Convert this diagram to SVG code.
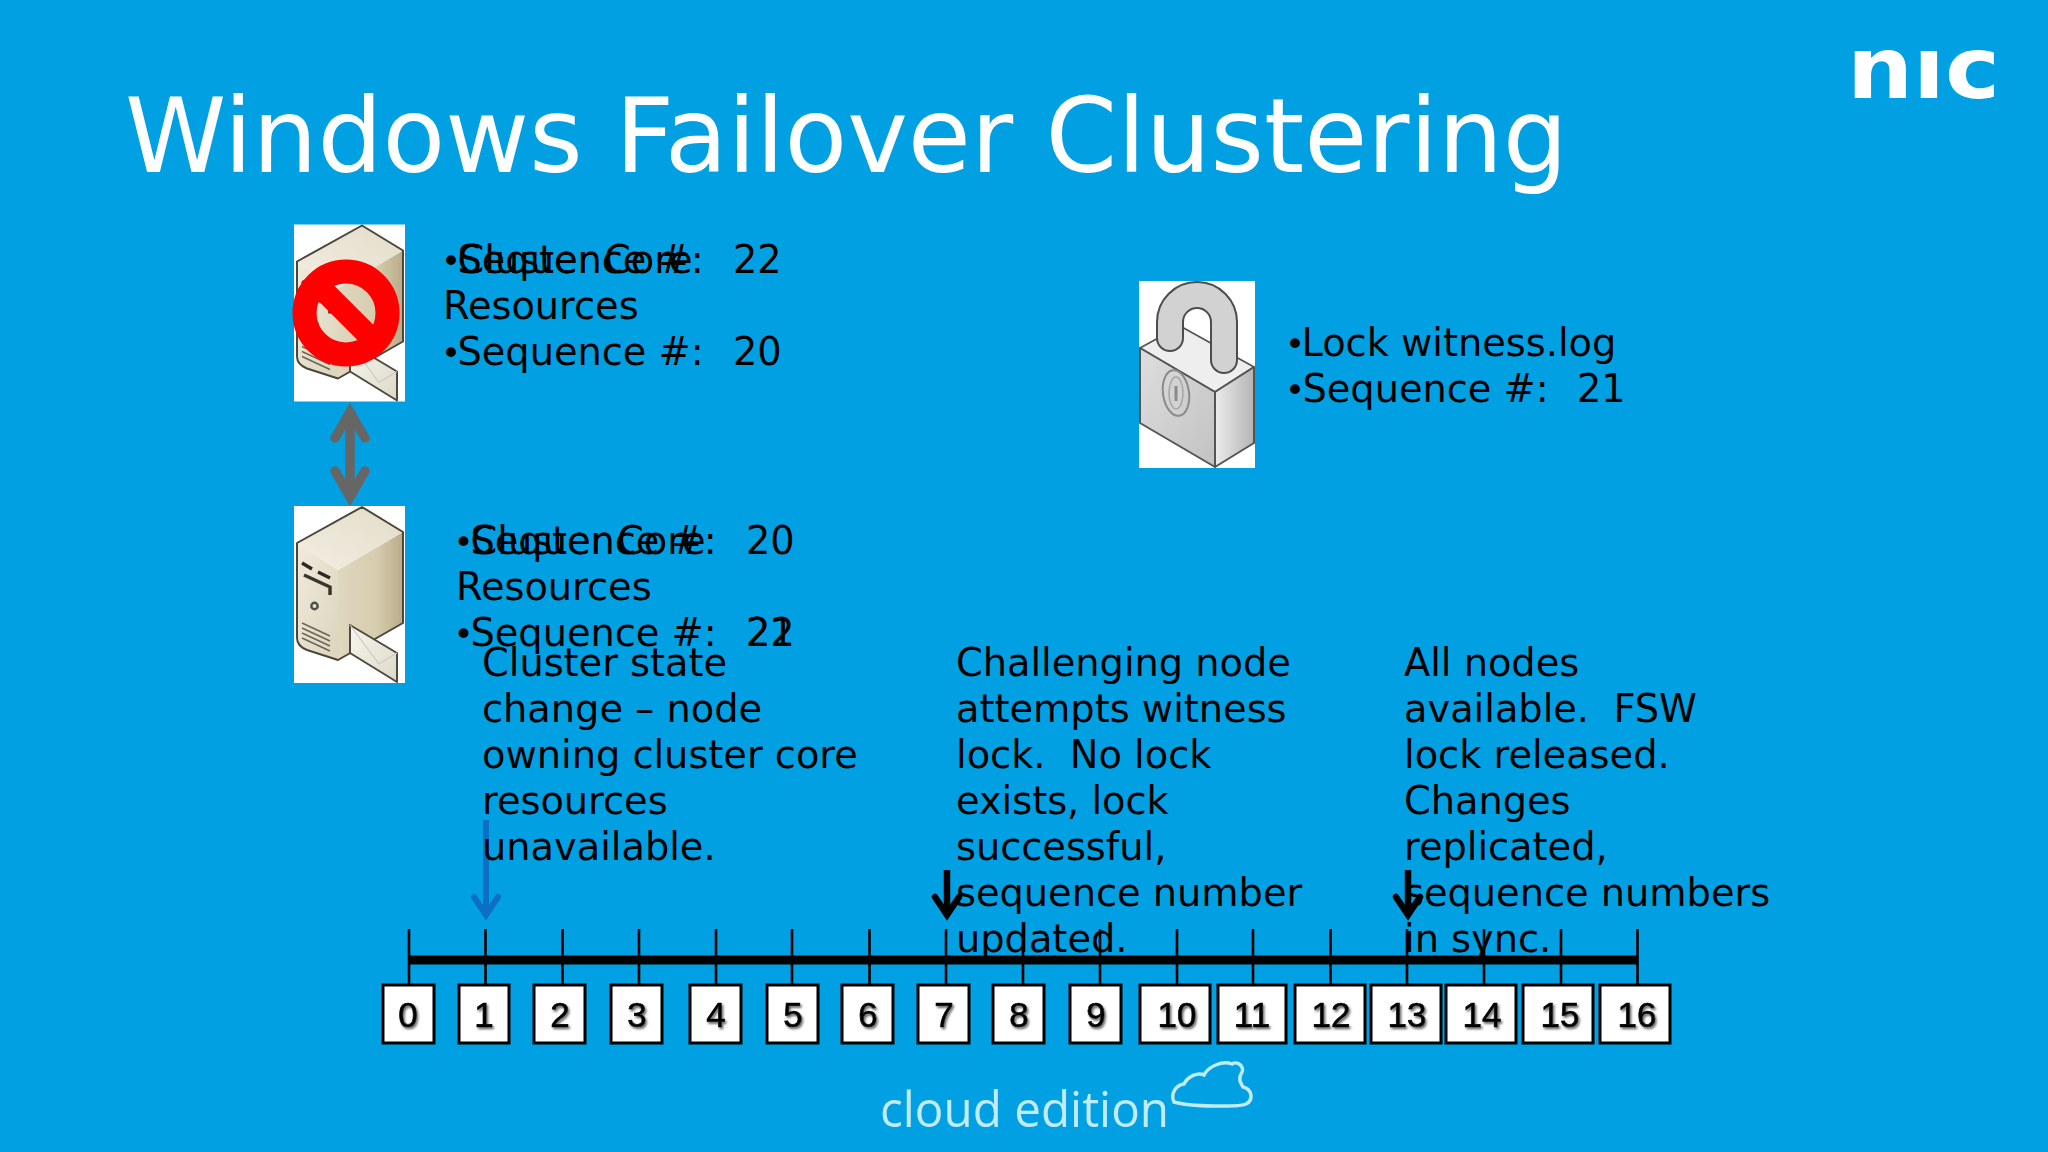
<svg xmlns="http://www.w3.org/2000/svg" width="2048" height="1152" viewBox="0 0 2048 1152">
<style>
.t{font-family:"DejaVu Sans",Verdana,sans-serif;font-size:38.300px;fill:#000}
.b{font-size:34px}
.title{font-family:"DejaVu Sans",Verdana,sans-serif;font-size:102.500px;fill:#fff}
.box{fill:#fff;stroke:#000;stroke-width:3}
.num{font-family:"Liberation Sans",Arial,sans-serif;font-size:35px;fill:#000;stroke:#000;stroke-width:.7px;text-anchor:middle;filter:url(#sh)}
.tick{stroke:#000;stroke-width:2.6;fill:none}
</style>
<defs>
<filter id="sh" x="-30%" y="-30%" width="170%" height="170%"><feDropShadow dx="1.500" dy="2" stdDeviation="1" flood-color="#666"/></filter>
<linearGradient id="sf" x1="0" y1="0" x2="1" y2="1"><stop offset="0" stop-color="#f0ebdd"/><stop offset="1" stop-color="#dcd4bc"/></linearGradient>
<linearGradient id="ss" x1="0" y1="0" x2="1" y2="0"><stop offset="0" stop-color="#dfd7bf"/><stop offset=".6" stop-color="#d6cdaf"/><stop offset="1" stop-color="#b8ab87"/></linearGradient>
<linearGradient id="st" x1="0" y1="1" x2="1" y2="0"><stop offset="0" stop-color="#f2eee2"/><stop offset="1" stop-color="#e3dcc8"/></linearGradient>
<linearGradient id="env" x1="0" y1="0" x2="1" y2="1"><stop offset="0" stop-color="#f7f6f0"/><stop offset="1" stop-color="#dcd9c8"/></linearGradient>
<linearGradient id="lk" x1="0" y1="0" x2="1" y2="1"><stop offset="0" stop-color="#dedede"/><stop offset="1" stop-color="#c2c2c2"/></linearGradient>
<linearGradient id="lk2" x1="0" y1="0" x2="1" y2="0"><stop offset="0" stop-color="#ececec"/><stop offset="1" stop-color="#b4b4b4"/></linearGradient>
<clipPath id="nicclip"><rect x="1845" y="49" width="160" height="50"/></clipPath>
<g id="server">
<rect x="294" y="506" width="111" height="177" fill="#fff"/>
<path d="M338 570L403 532V623L338 660Z" fill="url(#ss)"/>
<path d="M297 543L338 570V660L307 650Q297 646 297 638Z" fill="url(#sf)"/>
<path d="M362 507L403 532L338 570L297 543Z" fill="url(#st)"/>
<path d="M297 543L362 507L403 532V623L338 660L307 650Q297 646 297 638Z" fill="none" stroke="#4a463c" stroke-width="2" stroke-linejoin="round"/>
<path d="M302 563L312 569M318 572L330 578" fill="none" stroke="#2d2a24" stroke-width="3.500"/>
<path d="M304 575L330 587V595" fill="none" stroke="#3a362c" stroke-width="3.500"/>
<circle cx="314.500" cy="606" r="3.200" fill="none" stroke="#4b5245" stroke-width="2.400"/>
<path d="M302 623l28 13M302 628l28 13M302 633l28 13M302 638l28 13" fill="none" stroke="#6c6656" stroke-width="1.500"/>
<polygon points="350,625 397,653 397,682 350,653" fill="url(#env)" stroke="#4e4a3e" stroke-width="2" stroke-linejoin="round"/>
<path d="M350 625L379 664L397 653" fill="none" stroke="#cfcbbd" stroke-width="1.200"/>
</g>
</defs>
<rect width="2048" height="1152" fill="#00a0e3"/>
<g id="title"><text class="title" x="125" y="172">Windows Failover Clustering</text></g>
<g id="nic-logo"><text clip-path="url(#nicclip)" x="1847" y="98" font-family="DejaVu Sans" font-weight="bold" font-size="86" fill="#fff" textLength="153" lengthAdjust="spacingAndGlyphs">nic</text></g>
<g id="node-server-1">
<use href="#server" transform="translate(0,-281.500)"/>
<circle cx="346" cy="313" r="41.500" fill="none" stroke="#fe0000" stroke-width="24"/>
<line x1="318" y1="285" x2="374" y2="341" stroke="#fe0000" stroke-width="22"/>
</g>
<g id="node-server-2"><use href="#server"/></g>
<g id="node-lock">
<rect x="1139" y="281" width="116" height="187" fill="#fff"/>
<path d="M1140 348L1180 326L1254 367L1215 392Z" fill="#eeeeee" stroke="#555" stroke-width="1.800" stroke-linejoin="round"/>
<path d="M1170 338V322A27 27 0 0 1 1224 322V360" fill="none" stroke="#4d4d4d" stroke-width="28" stroke-linecap="round"/>
<path d="M1170 338V322A27 27 0 0 1 1224 322V360" fill="none" stroke="#d2d2d2" stroke-width="24" stroke-linecap="round"/>
<polygon points="1140,348 1215,392 1215,467 1140,423" fill="url(#lk)" stroke="#555" stroke-width="2" stroke-linejoin="round"/>
<polygon points="1215,392 1254,367 1254,443 1215,467" fill="url(#lk2)" stroke="#555" stroke-width="2" stroke-linejoin="round"/>
<ellipse cx="1176" cy="393" rx="13" ry="23" fill="none" stroke="#8a8a8a" stroke-width="2" transform="rotate(-8 1176 393)"/>
<ellipse cx="1176" cy="393" rx="7" ry="16" fill="#d2d2d2" stroke="#a5a5a5" stroke-width="1.500"/>
<rect x="1174.500" y="386" width="3" height="15" fill="#8a8a8a"/>
</g>
<g id="connectors">
<g id="link-servers" fill="none" stroke="#666" stroke-width="9.500" stroke-linejoin="miter">
<path d="M350 413V497"/>
<path d="M335 438L350 412L365 438" stroke-linecap="round"/>
<path d="M335 471L350 497L365 471" stroke-linecap="round"/>
</g>
<g id="timeline">
<line x1="409" y1="960" x2="1637.500" y2="960" stroke="#000" stroke-width="9"/>
<path class="tick" d="M409 929V985M485.500 929V985M562.500 929V985M639 929V985M716 929V985M792 929V985M869.500 929V985M946 929V985M1023 929V985M1100 929V985M1177 929V985M1253 929V985M1330.500 929V985M1407 929V985M1484 929V985M1561 929V985M1637.500 929V985"/>
</g>
<g id="arrow-1" fill="none" stroke="#0b6fc6" stroke-width="6">
<path d="M486 820V915"/><path d="M474 897L486 915L498 897" stroke-linecap="round"/>
</g>
<g id="arrow-7" fill="none" stroke="#000" stroke-width="6.500">
<path d="M947 870V915"/><path d="M935 897L947 915L959 897" stroke-linecap="round"/>
</g>
<g id="arrow-13" fill="none" stroke="#000" stroke-width="6.500">
<path d="M1408 870V915"/><path d="M1396 897L1408 915L1420 897" stroke-linecap="round"/>
</g>
</g>
<g id="server-1-text">
<text class="t" y="273"><tspan class="b" x="441">•</tspan><tspan x="457.500">Cluster</tspan><tspan x="604">Core</tspan></text>
<text class="t" x="443" y="319">Resources</text>
<text class="t" y="365"><tspan class="b" x="441">•</tspan><tspan x="457.500">Sequence #:</tspan><tspan x="733">20</tspan></text>
<text class="t" y="273"><tspan x="457.500">Sequence #:</tspan><tspan x="733">22</tspan></text>
</g>
<g id="server-2-text">
<text class="t" y="554"><tspan class="b" x="453.500">•</tspan><tspan x="470.500">Cluster</tspan><tspan x="617">Core</tspan></text>
<text class="t" x="456" y="600">Resources</text>
<text class="t" y="646"><tspan class="b" x="453.500">•</tspan><tspan x="470.500">Sequence #:</tspan><tspan x="746">21</tspan></text>
<text class="t" y="554"><tspan x="470.500">Sequence #:</tspan><tspan x="746">20</tspan></text>
<text class="t" x="746" y="646">22</text>
</g>
<g id="lock-text">
<text class="t" y="355.500"><tspan class="b" x="1285">•</tspan><tspan x="1301.500">Lock witness.log</tspan></text>
<text class="t" y="401.500"><tspan class="b" x="1285">•</tspan><tspan x="1302.500">Sequence #:</tspan><tspan x="1577">21</tspan></text>
</g>
<g id="note-1">
<text class="t" x="482" y="675.500">Cluster state</text>
<text class="t" x="482" y="721.500">change – node</text>
<text class="t" x="482" y="767.500">owning cluster core</text>
<text class="t" x="482" y="813.500">resources</text>
<text class="t" x="482" y="859.500">unavailable.</text>
</g>
<g id="note-2">
<text class="t" x="956" y="675.500">Challenging node</text>
<text class="t" x="956" y="721.500">attempts witness</text>
<text class="t" x="956" y="767.500" xml:space="preserve">lock.  No lock</text>
<text class="t" x="956" y="813.500">exists, lock</text>
<text class="t" x="956" y="859.500">successful,</text>
<text class="t" x="956" y="905.500">sequence number</text>
<text class="t" x="956" y="951.500">updated.</text>
</g>
<g id="note-3">
<text class="t" x="1404" y="675.500">All nodes</text>
<text class="t" x="1404" y="721.500" xml:space="preserve">available.  FSW</text>
<text class="t" x="1404" y="767.500">lock released.</text>
<text class="t" x="1404" y="813.500">Changes</text>
<text class="t" x="1404" y="859.500">replicated,</text>
<text class="t" x="1404" y="905.500">sequence numbers</text>
<text class="t" x="1404" y="951.500">in sync.</text>
</g>
<g id="tick-labels">
<g id="n0"><rect class="box" x="383" y="985" width="51" height="58"/><text class="num" x="408" y="1027">0</text></g>
<g id="n1"><rect class="box" x="459" y="985" width="50" height="58"/><text class="num" x="484" y="1027">1</text></g>
<g id="n2"><rect class="box" x="534" y="985" width="51" height="58"/><text class="num" x="560" y="1027">2</text></g>
<g id="n3"><rect class="box" x="611" y="985" width="51" height="58"/><text class="num" x="637" y="1027">3</text></g>
<g id="n4"><rect class="box" x="690" y="985" width="51" height="58"/><text class="num" x="716" y="1027">4</text></g>
<g id="n5"><rect class="box" x="767" y="985" width="51" height="58"/><text class="num" x="793" y="1027">5</text></g>
<g id="n6"><rect class="box" x="842" y="985" width="51" height="58"/><text class="num" x="868" y="1027">6</text></g>
<g id="n7"><rect class="box" x="918" y="985" width="51" height="58"/><text class="num" x="944" y="1027">7</text></g>
<g id="n8"><rect class="box" x="993" y="985" width="51" height="58"/><text class="num" x="1019" y="1027">8</text></g>
<g id="n9"><rect class="box" x="1070" y="985" width="51" height="58"/><text class="num" x="1096" y="1027">9</text></g>
<g id="n10"><rect class="box" x="1140" y="985" width="70" height="58"/><text class="num" x="1177" y="1027">10</text></g>
<g id="n11"><rect class="box" x="1218" y="985" width="68" height="58"/><text class="num" x="1252" y="1027">11</text></g>
<g id="n12"><rect class="box" x="1295" y="985" width="70" height="58"/><text class="num" x="1331" y="1027">12</text></g>
<g id="n13"><rect class="box" x="1371" y="985" width="70" height="58"/><text class="num" x="1407" y="1027">13</text></g>
<g id="n14"><rect class="box" x="1446" y="985" width="70" height="58"/><text class="num" x="1482" y="1027">14</text></g>
<g id="n15"><rect class="box" x="1523" y="985" width="70" height="58"/><text class="num" x="1560" y="1027">15</text></g>
<g id="n16"><rect class="box" x="1600" y="985" width="70" height="58"/><text class="num" x="1637" y="1027">16</text></g>
</g>
<g id="cloud-edition">
<text x="880" y="1127" font-family="'Open Sans',sans-serif" font-size="50" fill="#c0ebf7" textLength="289" lengthAdjust="spacingAndGlyphs">cloud edition</text>
<path d="M1174 1102C1170 1094 1176 1085 1184 1084C1188 1076 1198 1072 1204 1075C1208 1067 1222 1060 1232 1064C1238 1060 1246 1068 1241 1074C1238 1080 1241 1083 1243 1087C1252 1089 1254 1100 1246 1104C1240 1107 1190 1107 1174 1102Z" fill="none" stroke="#c0ebf7" stroke-width="3.500"/>
</g>
</svg>
